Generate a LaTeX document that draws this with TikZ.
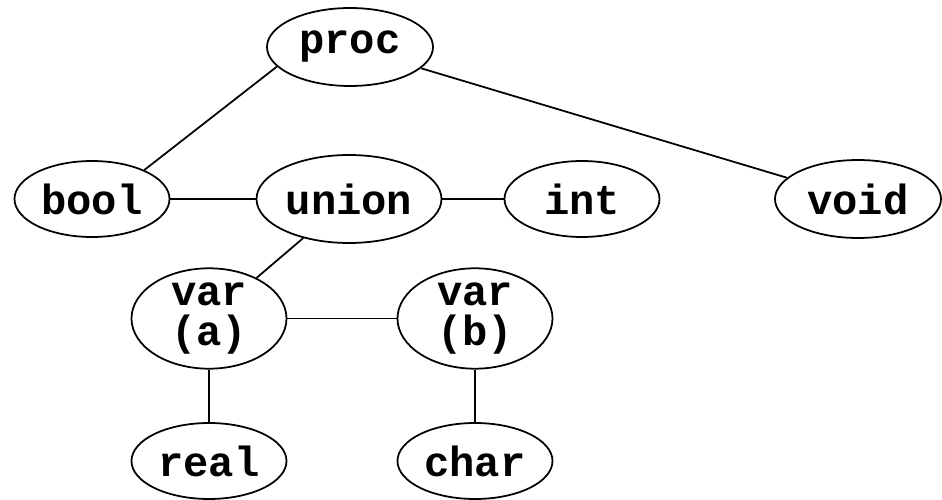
\documentclass[tikz,border=0pt]{standalone}
\usepackage{fontspec}
\setmonofont{Liberation Mono}
\usepackage{tikz}
\usetikzlibrary{shapes.geometric}
\tikzstyle{link} = [line width=1pt]
\tikzset{type/.style={draw, ellipse, line width=1pt, inner sep=0pt,
    minimum width=3.1cm, minimum height=1.52cm, align=center,
    font=\ttfamily\bfseries\fontsize{24}{22.5}\selectfont}}

\begin{document}
\begin{tikzpicture}
            \useasboundingbox (0,0) rectangle (18.84,9.98);
            % Draw the type nodes
            \node[type, minimum width=3.32cm, minimum height=1.56cm] (proc) at (7.00, 9.04) {proc};
            \node[type] (bool) at (1.84, 6.00) {bool};
            \node[type, minimum width=3.7cm, minimum height=1.76cm] (union) at (6.98, 6.00) {union};
            \node[type] (int) at (11.64, 6.00) {int};
            \node[type, minimum width=3.32cm, minimum height=1.56cm] (void) at (17.16, 6.00) {void};
            \node[type, minimum height=1.92cm] (vara) at (4.18, 3.61) {var\\(a)};
            \node[type, minimum height=1.92cm] (varb) at (9.50, 3.61) {var\\(b)};
            \node[type] (real) at (4.18, 0.76) {real};
            \node[type] (char) at (9.50, 0.76) {char};
            % Draw the links between them
            \draw[link] (bool.29) -- (proc.195);
            \draw[link] (proc) -- (void);
            \draw[link] (bool) -- (union);
            \draw[link] (union) -- (int);
            \draw[link] (union) -- (vara);
            \draw[link] (vara) -- (varb);
            \draw[link] (vara) -- (real);
            \draw[link] (varb) -- (char);
        \end{tikzpicture}
\end{document}
